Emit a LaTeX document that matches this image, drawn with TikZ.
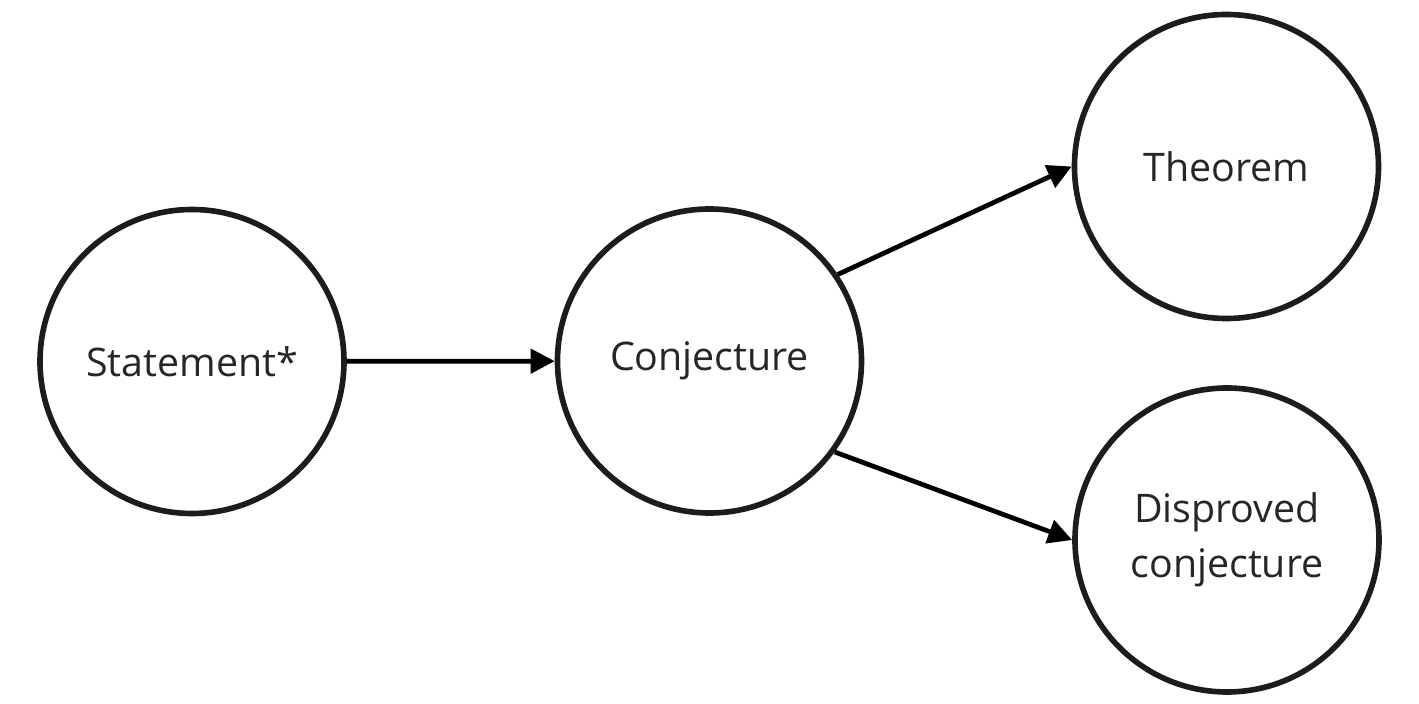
\documentclass[tikz,border=0pt]{standalone}
\usepackage{fontspec}
\setmainfont{Open Sans}
\usetikzlibrary{arrows.meta}
\definecolor{ringgray}{HTML}{1C1C1C}
\definecolor{textgray}{HTML}{262626}

\begin{document}
\begin{tikzpicture}[
    state/.style={circle,draw=ringgray,line width=1.6pt,minimum size=3.04cm,inner sep=0pt,
        align=center,text=textgray,font=\fontsize{11.2}{15.6}\selectfont},
    link/.style={line width=1.35pt,-{Triangle[length=2.4mm,width=2.4mm]}}
]
    \useasboundingbox (0,0) rectangle (14.19,7.04);

    \node[state] (stmt) at (1.92,3.425) {Statement*};
    \node[state] (conj) at (7.095,3.43) {Conjecture};
    \node[state] (thm) at (12.265,5.375) {Theorem};
    \node[state] (disp) at (12.27,1.64) {Disproved\\conjecture};

    \draw[link] (stmt) -- (conj);
    \draw[link] (conj.34) -- (thm.west);
    \draw[link] (conj.-36) -- (disp.west);
\end{tikzpicture}
\end{document}
